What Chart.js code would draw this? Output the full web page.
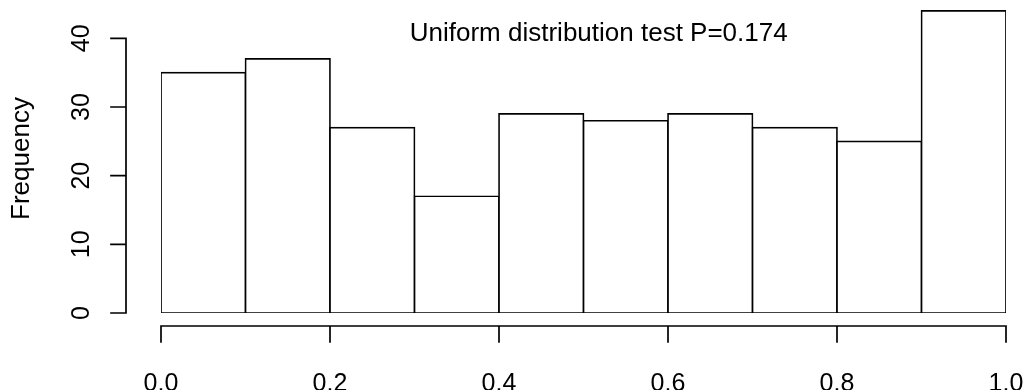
<!DOCTYPE html>
<html>
<head>
<meta charset="utf-8">
<title>Uniform distribution histogram</title>
<script src="https://cdn.jsdelivr.net/npm/chart.js@4/dist/chart.umd.min.js"></script>
<style>
  html, body { margin: 0; padding: 0; background: #fff; }
  #wrap { width: 1026px; height: 390px; position: relative; }
</style>
</head>
<body>
<div id="wrap"><canvas id="hist"></canvas></div>
<script>
  // Histogram data (bin breaks and counts)
  const breaks = [0, 0.1, 0.2, 0.3, 0.4, 0.5, 0.6, 0.7, 0.8, 0.9, 1.0];
  const counts = [35, 37, 27, 17, 29, 28, 29, 27, 25, 44];
  const xTicks = [0, 0.2, 0.4, 0.6, 0.8, 1.0];
  const yTicks = [0, 10, 20, 30, 40];
  const titleText = 'Uniform distribution test P=0.174';
  const yLabel = 'Frequency';

  const FONT = 'Liberation Sans, Arial, Helvetica, sans-serif';
  const LW = 1.7;

  // bar centres from the breaks
  const points = counts.map((c, i) => ({ x: (breaks[i] + breaks[i + 1]) / 2, y: c }));

  // R style axes: detached lines and tick marks, plus the text annotation
  const rAxes = {
    id: 'rAxes',
    afterDraw(chart) {
      const ctx = chart.ctx;
      const xs = chart.scales.x;
      const ys = chart.scales.y;
      const area = chart.chartArea;
      ctx.save();
      ctx.strokeStyle = '#000';
      ctx.lineWidth = LW;
      ctx.lineCap = 'square';

      // y axis
      const ax = area.left - 35;
      ctx.beginPath();
      ctx.moveTo(ax, ys.getPixelForValue(yTicks[0]));
      ctx.lineTo(ax, ys.getPixelForValue(yTicks[yTicks.length - 1]));
      yTicks.forEach(v => {
        const p = ys.getPixelForValue(v);
        ctx.moveTo(ax, p);
        ctx.lineTo(ax - 15, p);
      });
      ctx.stroke();

      // x axis
      const ay = area.bottom + 13;
      ctx.beginPath();
      ctx.moveTo(xs.getPixelForValue(xTicks[0]), ay);
      ctx.lineTo(xs.getPixelForValue(xTicks[xTicks.length - 1]), ay);
      xTicks.forEach(v => {
        const p = xs.getPixelForValue(v);
        ctx.moveTo(p, ay);
        ctx.lineTo(p, ay + 16);
      });
      ctx.stroke();

      // annotation text
      ctx.fillStyle = '#000';
      ctx.font = '26px ' + FONT;
      ctx.textAlign = 'center';
      ctx.textBaseline = 'middle';
      ctx.fillText(titleText, xs.getPixelForValue(0.518), 34);
      ctx.restore();
    }
  };

  new Chart(document.getElementById('hist'), {
    type: 'bar',
    data: {
      datasets: [{
        data: points,
        backgroundColor: '#ffffff',
        borderColor: '#000000',
        borderWidth: LW,
        inflateAmount: LW / 2,
        borderSkipped: false,
        barPercentage: 1,
        categoryPercentage: 1
      }]
    },
    options: {
      responsive: true,
      maintainAspectRatio: false,
      animation: false,
      layout: { padding: { top: 4, right: 20, left: 0, bottom: 0 } },
      plugins: {
        legend: { display: false },
        tooltip: { enabled: false }
      },
      scales: {
        x: {
          type: 'linear',
          min: breaks[0],
          max: breaks[breaks.length - 1],
          offset: false,
          grid: { display: false },
          border: { display: false },
          afterBuildTicks: s => { s.ticks = xTicks.map(v => ({ value: v })); },
          afterFit: s => {
            s.height = 77;
            s.paddingLeft = 0;
            s.paddingRight = 0;
          },
          ticks: {
            color: '#000',
            font: { family: FONT, size: 25 },
            padding: 48,
            maxRotation: 0,
            autoSkip: false,
            callback: v => v.toFixed(1)
          }
        },
        y: {
          min: 0,
          max: 45,
          grid: { display: false },
          border: { display: false },
          afterBuildTicks: s => { s.ticks = yTicks.map(v => ({ value: v })); },
          afterFit: s => {
            s.width = 161;
            s.paddingTop = 0;
            s.paddingBottom = 0;
          },
          title: {
            display: true,
            text: yLabel,
            color: '#000',
            font: { family: FONT, size: 26 },
            padding: { top: 6, bottom: 0 }
          },
          ticks: {
            color: '#000',
            font: { family: FONT, size: 25 },
            minRotation: 90,
            maxRotation: 90,
            crossAlign: 'center',
            padding: 57,
            autoSkip: false
          }
        }
      }
    },
    plugins: [rAxes]
  });
</script>
</body>
</html>
